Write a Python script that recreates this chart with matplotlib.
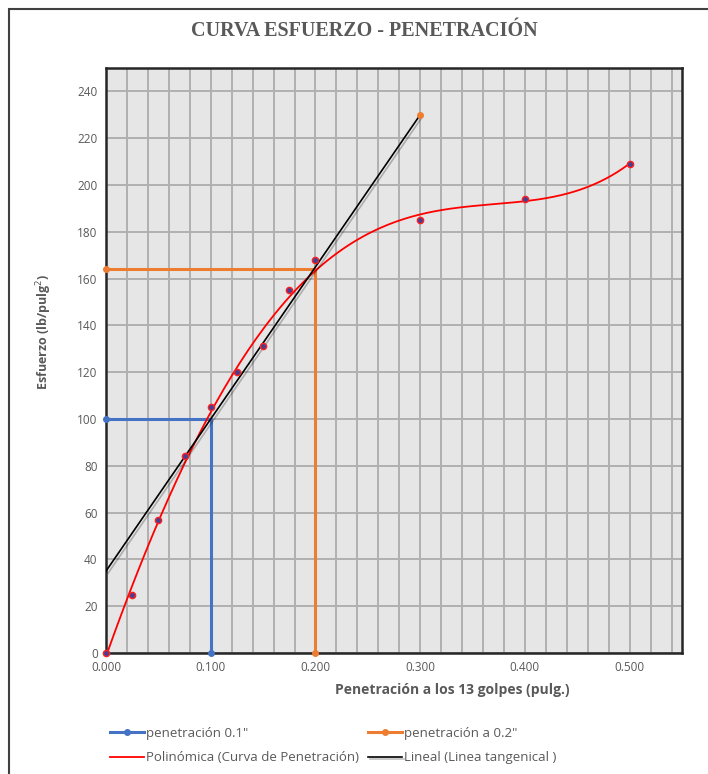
import numpy as np
import matplotlib
matplotlib.use("Agg")
import matplotlib.pyplot as plt
from matplotlib.patches import Rectangle
import matplotlib.patheffects as pe

# penetration data (pulg.) and stress (lb/pulg2)
penetracion = [0.000, 0.025, 0.050, 0.075, 0.100, 0.125, 0.150, 0.175, 0.200, 0.300, 0.400, 0.500]
esfuerzo = [0, 25, 57, 84, 105, 120, 131, 155, 168, 185, 194, 209]

# reference lines at 0.1" and 0.2"
pen_01_x = [0.000, 0.100, 0.100]
pen_01_y = [100, 100, 0]
pen_02_x = [0.000, 0.200, 0.200]
pen_02_y = [164, 164, 0]

# tangent line
tang_x = [0.000, 0.300]
tang_y = [35, 230]

x_ticks = [0.0, 0.1, 0.2, 0.3, 0.4, 0.5]
y_ticks = list(range(0, 241, 20))

gray = '#595959'
plt.rcParams['font.family'] = ['Open Sans', 'DejaVu Sans']

fig = plt.figure(figsize=(7.08, 7.74), dpi=100)
fig.patches.append(Rectangle((9 / 708, -0.01), 1.0, 1 - 9 / 774 + 0.01, transform=fig.transFigure,
                             fill=False, edgecolor='#404040', linewidth=1.5))

ax = fig.add_axes([106 / 708, 1 - 653 / 774, (682 - 106) / 708, (653 - 68) / 774])
ax.set_facecolor('#e6e6e6')
ax.set_xlim(0, 0.55)
ax.set_ylim(0, 250)
ax.set_xticks(x_ticks)
ax.set_xticks(np.arange(0, 0.551, 0.02), minor=True)
ax.set_yticks(y_ticks)
ax.set_xticklabels(['{:.3f}'.format(v) for v in x_ticks])
ax.grid(True, which='both', axis='x', color='#b0b0b0', linewidth=1.4)
ax.grid(True, which='major', axis='y', color='#b0b0b0', linewidth=1.4)
ax.set_axisbelow(True)
ax.tick_params(which='both', length=0, labelsize=8.5, colors=gray, pad=6)
for s in ax.spines.values():
    s.set_linewidth(1.8)
    s.set_color('#262626')

# trendline (polynomial fit of the data)
coef = np.polyfit(penetracion, esfuerzo, 4)
xs = np.linspace(0, 0.5, 200)
l_poly, = ax.plot(xs, np.polyval(coef, xs), color='#ff0000', linewidth=1.3, zorder=4)

l_tang, = ax.plot(tang_x, tang_y, color='black', linewidth=1.2, zorder=4,
                  path_effects=[pe.SimpleLineShadow(offset=(1.5, -1.5), alpha=0.25), pe.Normal()])
ax.plot(tang_x[-1], tang_y[-1], 'o', color='#ed7d31', markersize=4, zorder=5)

l_01, = ax.plot(pen_01_x, pen_01_y, color='#4472c4', linewidth=2.2, marker='o', markersize=4,
                markevery=[0, 2], zorder=3, clip_on=False)
l_02, = ax.plot(pen_02_x, pen_02_y, color='#ed7d31', linewidth=2.2, marker='o', markersize=4,
                markevery=[0, 2], zorder=3, clip_on=False)

ax.plot(penetracion, esfuerzo, 'o', markersize=4.5, markerfacecolor='#4b3d8f',
        markeredgecolor='#ff2020', markeredgewidth=1.0, linestyle='none', zorder=6, clip_on=False)

fig.text(364 / 708, 1 - 31 / 774, 'CURVA ESFUERZO - PENETRACIÓN', ha='center', va='center',
         fontsize=14.5, fontweight='bold', color=gray, family=['Liberation Serif', 'DejaVu Serif'])
fig.text(452 / 708, 1 - 690 / 774, 'Penetración a los 13 golpes (pulg.)', ha='center', va='center',
         fontsize=10, fontweight='bold', color=gray)
fig.text(44 / 708, 1 - 332 / 774, 'Esfuerzo (lb/pulg$^2$)', ha='center', va='center', rotation=90,
         fontsize=9, fontweight='bold', color=gray)

# column-wise fill: blue / red in column one, orange / black in column two
leg = fig.legend([l_01, l_poly, l_02, l_tang],
                 ['penetración 0.1"', 'Polinómica (Curva de Penetración)', 'penetración a 0.2"',
                  'Lineal (Linea tangenical )'],
                 loc='upper left', bbox_to_anchor=(110 / 708, 1 - 727 / 774), ncol=2, frameon=False,
                 fontsize=9.5, handlelength=2.6, handletextpad=0.15, columnspacing=0.65,
                 labelspacing=0.85, borderaxespad=0, borderpad=0)
for t in leg.get_texts():
    t.set_color(gray)

fig.savefig('out.png', dpi=100)
